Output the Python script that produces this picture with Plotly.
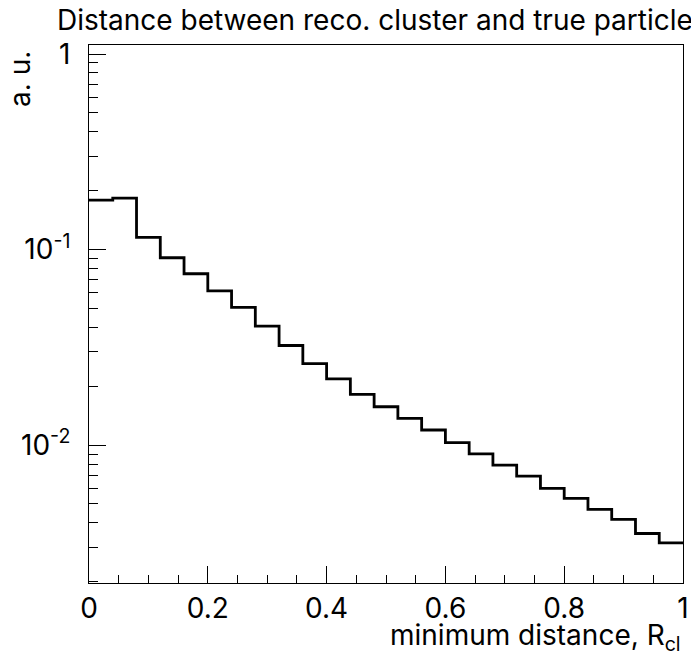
import plotly.graph_objects as go

# ---- data -------------------------------------------------------------
bin_edges = [0.00, 0.04, 0.08, 0.12, 0.16, 0.20, 0.24, 0.28, 0.32, 0.36,
             0.40, 0.44, 0.48, 0.52, 0.56, 0.60, 0.64, 0.68, 0.72, 0.76,
             0.80, 0.84, 0.88, 0.92, 0.96, 1.00]
bin_contents = [0.179, 0.183, 0.1155, 0.0908, 0.0752, 0.0615, 0.0506, 0.0406,
                0.0323, 0.0261, 0.0218, 0.01816, 0.0157, 0.0137, 0.01194,
                0.01028, 0.00902, 0.00790, 0.00694, 0.00601, 0.00534,
                0.00469, 0.00417, 0.00353, 0.00316]
x_tick_vals = [0, 0.2, 0.4, 0.6, 0.8, 1]
x_tick_labels = ["0", "0.2", "0.4", "0.6", "0.8", "1"]
y_tick_vals = [0.01, 0.1, 1]
y_tick_labels = ["10<sup>-2</sup>", "10<sup>-1</sup>", "1"]
title_text = "Distance between reco. cluster and true particle"
x_title = "minimum distance, R<sub>cl</sub>"
y_title = "a. u."

# ---- layout constants (screen pixels) ----------------------------------
VIEW_W, VIEW_H = 699, 665
PAGE_OFFSET = 8          # default <body> margin of the html page
W, H = VIEW_W - PAGE_OFFSET, VIEW_H - PAGE_OFFSET
L, R, T, B = 89, 683, 45, 583   # frame edges as seen on screen
FONT = "Inter, Liberation Sans, Arial, sans-serif"
FS = 28


def px_x(p):
    return (p - L) / (R - L)


def px_y(p):
    return (B - p) / (B - T)


x_minor = [round(0.05 * i, 2) for i in range(1, 20) if i % 4 != 0]
y_minor = [m * 10.0 ** e for e in (-3, -2, -1) for m in range(2, 10)]

step_y = bin_contents + [bin_contents[-1]]

fig = go.Figure()
fig.add_trace(go.Scatter(
    x=bin_edges, y=step_y, mode="lines", line_shape="hv",
    line=dict(color="black", width=2.8), showlegend=False, hoverinfo="skip",
))

fig.update_layout(
    width=W, height=H,
    margin=dict(l=L - PAGE_OFFSET, r=VIEW_W - R, t=T - PAGE_OFFSET,
                b=VIEW_H - B, pad=0, autoexpand=False),
    paper_bgcolor="white", plot_bgcolor="white",
    font=dict(family=FONT, color="black", size=FS),
    showlegend=False,
)

fig.update_xaxes(
    range=[0, 1], showgrid=False, zeroline=False, automargin=False,
    showline=True, linecolor="black", linewidth=1, mirror=True,
    tickmode="array", tickvals=x_tick_vals, ticktext=x_tick_labels,
    ticks="inside", ticklen=17, tickwidth=1, tickcolor="black",
    tickfont=dict(family=FONT, size=FS, color="black"),
    minor=dict(tickmode="array", tickvals=x_minor, ticks="inside",
               ticklen=8, tickwidth=1, tickcolor="black", showgrid=False),
)
fig.update_yaxes(
    type="log", range=[-2.7055, 0.0461], showgrid=False, zeroline=False,
    automargin=False,
    showline=True, linecolor="black", linewidth=1, mirror=True,
    tickmode="array", tickvals=y_tick_vals, ticktext=y_tick_labels,
    ticks="inside", ticklen=17, tickwidth=1, tickcolor="black",
    ticklabelstandoff=12,
    tickfont=dict(family=FONT, size=FS, color="black"),
    minor=dict(tickmode="array", tickvals=y_minor, ticks="inside",
               ticklen=9, tickwidth=1, tickcolor="black", showgrid=False),
)

fig.add_annotation(
    text=title_text, xref="paper", yref="paper",
    x=px_x(375), y=px_y(20), xanchor="center", yanchor="middle",
    showarrow=False, font=dict(family=FONT, size=FS, color="black"),
)
fig.add_annotation(
    text=x_title, xref="paper", yref="paper",
    x=1.0, y=px_y(616), xanchor="right", yanchor="top",
    showarrow=False, font=dict(family=FONT, size=FS, color="black"),
)
fig.add_annotation(
    text=y_title, xref="paper", yref="paper", textangle=-90,
    x=px_x(20), y=px_y(49), xanchor="center", yanchor="top",
    showarrow=False, font=dict(family=FONT, size=FS, color="black"),
)

fig.write_html("out.html")
